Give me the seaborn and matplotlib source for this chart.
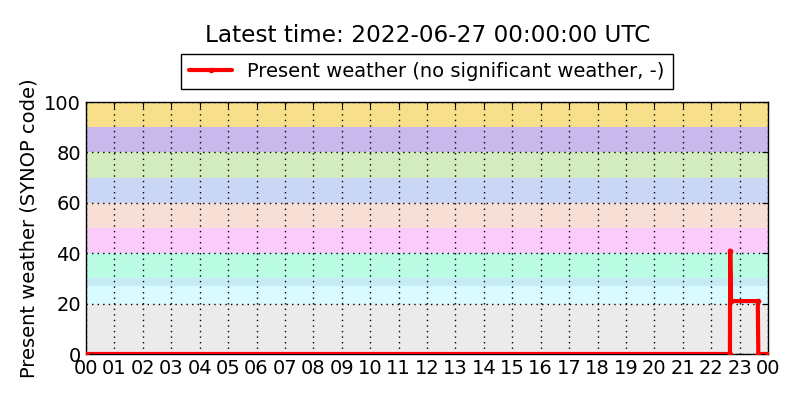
import matplotlib
matplotlib.use("Agg")
import matplotlib.pyplot as plt
import seaborn as sns
import pandas as pd

# observations (hours since 00 UTC, SYNOP ww code)
hours = [0.0, 22.66, 22.67, 22.70, 23.64, 23.66, 24.0]
ww_code = [0, 0, 41, 21, 21, 0, 0]

# SYNOP code background bands
band_lo = [0, 20, 27, 30, 40, 50, 60, 70, 80, 90]
band_hi = [20, 27, 30, 40, 50, 60, 70, 80, 90, 100]
band_col = ["#ebebeb", "#d9fafe", "#c5ebf3", "#bbfde4", "#fbccfb",
            "#f8dfd5", "#c9d6f5", "#d2ecbf", "#c9b8ec", "#f8df8c"]

tick_hours = list(range(25))
tick_labels = ["%02d" % (h % 24) for h in tick_hours]

df = pd.DataFrame({"hour": hours, "ww": ww_code})

sns.set_style("white")
plt.rcParams["font.family"] = ["DejaVu Sans"]
plt.rcParams["text.color"] = "black"
plt.rcParams["axes.labelcolor"] = "black"
plt.rcParams["xtick.color"] = "black"
plt.rcParams["ytick.color"] = "black"

fig = plt.figure(figsize=(8, 4), dpi=100)
ax = fig.add_axes([0.1075, 0.115, 0.8525, 0.63])

for lo, hi, c in zip(band_lo, band_hi, band_col):
    ax.axhspan(lo, hi, color=c, lw=0, zorder=0)

sns.lineplot(data=df, x="hour", y="ww", ax=ax, color="red", linewidth=3,
             marker="o", markersize=4, markeredgewidth=0,
             label="Present weather (no significant weather, -)", zorder=3)

ax.set_xlim(0, 24)
ax.set_ylim(0, 100)
ax.set_xticks(tick_hours)
ax.set_xticklabels(tick_labels)
ax.set_yticks([0, 20, 40, 60, 80, 100])
ax.grid(True, color="black", linestyle=(0, (1, 3)), linewidth=1, zorder=1)
ax.set_axisbelow(False)
ax.tick_params(direction="in", top=True, right=True, labelsize=14, length=4,
               color="black", labelcolor="black")
for s in ax.spines.values():
    s.set_color("black")
    s.set_linewidth(1)
ax.set_xlabel("")
ax.set_ylabel("Present weather (SYNOP code)", fontsize=14, color="black")

leg = ax.legend(loc="lower center", bbox_to_anchor=(0.5, 1.052),
                borderaxespad=0, fontsize=14, fancybox=False,
                edgecolor="black", framealpha=1, handlelength=2.2)
leg.get_frame().set_linewidth(1)
for t in leg.get_texts():
    t.set_color("black")

fig.text(0.534, 0.9125, "Latest time: 2022-06-27 00:00:00 UTC",
         ha="center", va="center", fontsize=16.7, color="black")

fig.savefig("out.png", dpi=100)
